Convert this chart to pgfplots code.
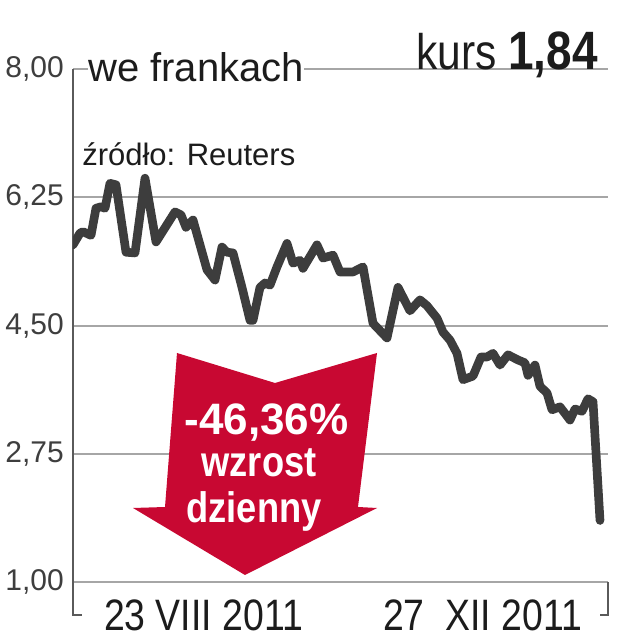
\documentclass[border=0pt]{standalone}
\usepackage{fontspec}
\setmainfont{Liberation Sans}
\newfontfamily\cond[FakeStretch=0.85]{Liberation Sans}
\usepackage{pgfplots}
\pgfplotsset{compat=1.18}
\definecolor{linec}{HTML}{3D3D3D}
\definecolor{gridc}{HTML}{A6A6A6}
\definecolor{axc}{HTML}{5A5A5A}
\definecolor{arrowred}{RGB}{200,8,50}
\definecolor{txt}{HTML}{1C1C1C}

% kurs w CHF, x = dzien notowan (skala pikselowa)
\pgfplotstableread{
x    v
0    5.60
7    5.76
10   5.78
18   5.73
23   6.10
28   6.12
32   6.10
37   6.44
43   6.42
53   5.50
62   5.49
72   6.51
83   5.64
102  6.05
108  6.01
113  5.84
120  5.94
134  5.26
142  5.12
149  5.57
154  5.50
160  5.49
169  5.02
177  4.57
180  4.57
187  5.02
192  5.08
197  5.05
204  5.30
214  5.62
220  5.35
227  5.39
230  5.28
244  5.60
250  5.42
260  5.46
267  5.23
280  5.23
290  5.30
300  4.53
314  4.33
325  5.02
337  4.70
347  4.85
354  4.77
364  4.60
370  4.41
377  4.30
384  4.12
390  3.76
400  3.81
408  4.07
414  4.07
420  4.12
427  3.96
435  4.10
445  4.03
452  3.99
455  3.82
462  3.96
467  3.67
474  3.58
479  3.35
487  3.39
497  3.21
502  3.36
509  3.33
515  3.50
520  3.46
527  1.84
}\kurs

\begin{document}
\begin{tikzpicture}[x=0.75bp,y=0.75bp]
\path[use as bounding box] (-73,-58) rectangle (544,582);
\begin{axis}[
  at={(0,0)}, anchor=south west,
  scale only axis, width=401.25bp, height=384.75bp,
  xmin=0, xmax=535, ymin=1, ymax=8,
  axis x line*=bottom, axis y line*=left,
  x axis line style={draw=gridc, line width=1.5bp},
  y axis line style={draw=axc, line width=1.5bp},
  xtick=\empty,
  ytick={1,2.75,4.5,6.25,8},
  ymajorgrids, grid style={draw=gridc, line width=1.5bp},
  major tick length=0pt,
  yticklabel style={font=\fontsize{22.5bp}{26bp}\selectfont, text=txt!85,
                    inner sep=0pt, xshift=-6.75bp},
  /pgf/number format/fixed, /pgf/number format/fixed zerofill,
  /pgf/number format/precision=2, /pgf/number format/use comma,
  /pgf/number format/assume math mode=true,
]
\addplot[linec, line width=6.5bp, line join=round, line cap=round]
  table[x=x, y=v] {\kurs};
\end{axis}

% naglowki
\node[anchor=base west, fill=white, inner sep=0pt, text=txt,
      font=\fontsize{30bp}{36bp}\selectfont] at (15,500) {we frankach};
\node[anchor=base east, inner sep=0pt, text=txt] at (525,512)
  {\cond\fontsize{37.5bp}{45bp}\selectfont kurs \fontsize{40.5bp}{48bp}\selectfont\bfseries 1,84};
\node[anchor=base west, inner sep=0pt, text=txt,
      font=\fontsize{23.25bp}{28bp}\selectfont] at (9,416) {źródło: Reuters};

% strzalka
\fill[arrowred] (104,229) -- (202,199) -- (304,229) -- (285,75) -- (304,74)
  -- (172,7) -- (60,74) -- (92,75) -- cycle;
\node[anchor=base, text=white, inner sep=0pt,
      font=\bfseries\fontsize{33bp}{40bp}\selectfont] at (193.5,147) {-46,36\%};
\node[anchor=base, text=white, inner sep=0pt,
      font=\cond\bfseries\fontsize{32bp}{38bp}\selectfont] at (186,105) {wzrost};
\node[anchor=base, text=white, inner sep=0pt,
      font=\cond\bfseries\fontsize{32bp}{38bp}\selectfont] at (181,60) {dzienny};

% os czasu
\draw[axc, line width=1.5bp] (0,0) -- (0,-33) -- (9,-33);
\draw[axc, line width=1.5bp] (535,0) -- (535,-33) -- (527,-33);
\node[anchor=base, inner sep=0pt, text=txt,
      font=\cond\fontsize{33bp}{40bp}\selectfont] at (130.5,-48) {23 VIII 2011};
\node[anchor=base, inner sep=0pt, text=txt,
      font=\cond\fontsize{33bp}{40bp}\selectfont] at (409.5,-48) {27 \ XII 2011};
\end{tikzpicture}
\end{document}
